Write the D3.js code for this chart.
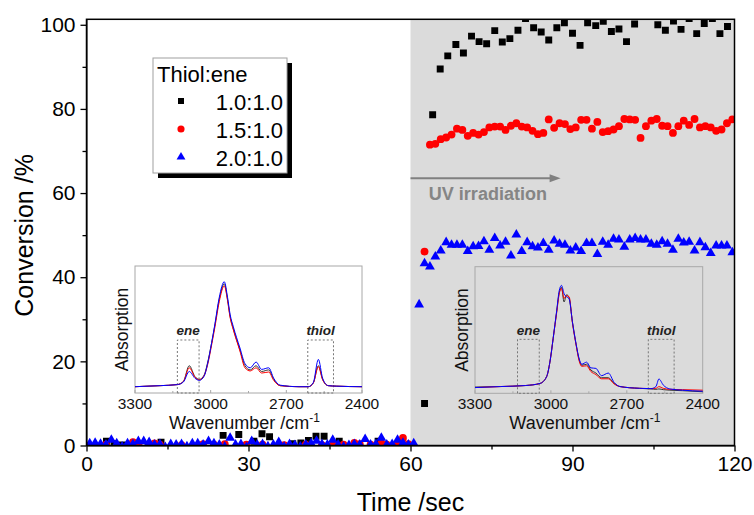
<!DOCTYPE html>
<html>
<head>
<meta charset="utf-8">
<script src="https://cdn.jsdelivr.net/npm/d3@7"></script>
<style>
body { margin: 0; background: #fff; }
svg { display: block; font-family: "Liberation Sans", Arial, sans-serif; }
</style>
</head>
<body>
<svg width="754" height="515"></svg>
<script>
// main chart data: conversion (%) vs time (s)
const xTicks = [0, 30, 60, 90, 120];
const xMinor = [15, 45, 75, 105];
const yTicks = [0, 20, 40, 60, 80, 100];
const yMinor = [10, 30, 50, 70, 90];

const seriesNames = ['1.0:1.0', '1.5:1.0', '2.0:1.0'];
const seriesColors = ['#000000', '#ff0000', '#0000ff'];

// 1.0:1.0 sampled every ~1.44 s (only the visible points)
const blackTime = [3.7, 5.1, 6.6, 13.8, 25.3, 28.2, 31.0, 32.5, 33.9, 38.2, 39.7, 41.1, 42.5, 44.0, 46.8, 54.0,
  62.6, 64.1, 65.5, 66.9, 68.4, 69.8, 71.3, 72.7, 74.1, 75.6, 77.0, 78.4, 79.9, 81.3, 82.8, 84.2, 85.6, 87.1, 88.5, 90.0,
  91.4, 92.8, 94.3, 95.7, 97.2, 98.6, 100.0, 101.5, 102.9, 104.4, 105.8, 107.2, 108.7, 110.1, 111.6, 113.0, 114.4, 115.9, 117.3, 118.7];
const blackConv = [1.0, 0.4, 0.1, 0.8, 2.4, 2.6, 1.0, 2.8, 2.1, 0.4, 0.6, 1.2, 2.2, 2.2, 1.0, 1.0,
  10, 78.6, 89.5, 92.6, 95.3, 93.3, 97.3, 96.0, 95.5, 98.6, 95.9, 96.7, 98.7, 101.5, 99.3, 98.3, 96.4, 99.3, 100.5, 98.0,
  95.1, 100.5, 99.8, 100.8, 98.4, 99.0, 96.0, 100.2, 102.5, 102.5, 100.0, 98.7, 100.9, 98.9, 101.5, 97.9, 100.3, 101.5, 97.9, 99.6];

// 1.5:1.0 and 2.0:1.0 sampled every second
const secTime = [0.6, 1.6, 2.6, 3.6, 4.6, 5.6, 6.6, 7.6, 8.6, 9.6,
  10.6, 11.6, 12.6, 13.6, 14.6, 15.6, 16.6, 17.6, 18.6, 19.6,
  20.6, 21.6, 22.6, 23.6, 24.6, 25.6, 26.6, 27.6, 28.6, 29.6,
  30.6, 31.6, 32.6, 33.6, 34.6, 35.6, 36.6, 37.6, 38.6, 39.6,
  40.6, 41.6, 42.6, 43.6, 44.6, 45.6, 46.6, 47.6, 48.6, 49.6,
  50.6, 51.6, 52.6, 53.6, 54.6, 55.6, 56.6, 57.6, 58.6, 59.6,
  60.6, 61.6, 62.6, 63.6, 64.6, 65.6, 66.6, 67.6, 68.6, 69.6,
  70.6, 71.6, 72.6, 73.6, 74.6, 75.6, 76.6, 77.6, 78.6, 79.6,
  80.6, 81.6, 82.6, 83.6, 84.6, 85.6, 86.6, 87.6, 88.6, 89.6,
  90.6, 91.6, 92.6, 93.6, 94.6, 95.6, 96.6, 97.6, 98.6, 99.6,
  100.6, 101.6, 102.6, 103.6, 104.6, 105.6, 106.6, 107.6, 108.6, 109.6,
  110.6, 111.6, 112.6, 113.6, 114.6, 115.6, 116.6, 117.6, 118.6, 119.6];
const redConv = [null, null, null, 0.2, null, null, null, null, 0.8, 0.3,
  null, null, 0.5, 0.2, null, null, null, 0.1, null, null,
  null, 0.3, null, 0.2, null, 0.3, null, null, null, 0.2,
  null, null, 0.2, null, null, null, 0.1, null, null, null,
  0.2, null, null, 0.1, null, 0.1, null, 0.2, null, 0.6,
  0.3, null, 0.2, null, 0.5, 0.2, null, 0.3, 1.8, 0.3,
  null, null, 46.1, 71.5, 71.7, 72.8, 73.2, 73.9, 75.3, 75.0,
  73.6, 74.3, 73.9, 74.5, 75.6, 75.8, 75.8, 75.0, 76.0, 76.6,
  75.8, 75.6, 74.8, 74.0, 74.3, 77.5, 75.5, 76.6, 76.4, 75.2,
  75.6, 77.4, 77.4, 75.3, 76.9, 74.5, 74.7, 75.1, 75.9, 77.6,
  77.5, 77.4, 73.1, 75.9, 77.2, 77.6, 76.0, 75.9, 74.3, 75.9,
  77.2, 76.2, 77.6, 75.6, 75.9, 75.6, 74.8, 75.1, 76.6, 77.5];
const blueConv = [0.5, 0.6, 0.4, 0.2, 1.3, 0.5, -0.3, 0.5, 0.3, 1.0,
  1.0, 0.8, 0.2, 0.3, -0.4, 0.3, 0.2, 0.3, -0.2, 0.5,
  0.5, 0.2, 1.0, 0.5, 0.2, -0.3, 1.8, 0.2, 0.3, -0.4,
  1.0, 0.2, 0.3, -0.2, 0.2, 0.8, -0.3, 0.3, 0.1, -0.3,
  0.2, 0.5, 1.1, 0.3, 0.2, 1.3, 0.2, -0.3, 0.1, 0.3,
  0.2, 1.5, 0.2, 0.3, 1.8, 0.2, 0.3, 1.3, 0.6, 0.2,
  0.5, 33.5, 43.3, 42.5, 44.9, 46.3, 48.3, 47.7, 47.7, 47.7,
  46.2, 47.3, 47.4, 48.5, 46.5, 49.3, 47.5, 48.4, 45.1, 50.1,
  46.2, 48.3, 47.3, 47.0, 48.1, 46.5, 48.7, 47.9, 47.7, 46.3,
  47.0, 46.2, 48.1, 48.1, 45.5, 48.4, 47.7, 49.1, 48.9, 47.2,
  48.9, 49.3, 48.9, 48.9, 47.9, 47.7, 48.5, 47.9, 46.5, 49.1,
  48.2, 48.4, 46.3, 48.3, 47.1, 45.7, 47.5, 47.5, 47.5, 45.9];

// inset spectra (absorbance, normalised to main peak)
const wnTicks = [3300, 3000, 2700, 2400];
const bandNames = ['ene', 'thiol'];
const bandFrom = [3132, 2615];
const bandTo = [3046, 2513];

const wn1 = [3300, 3200, 3132, 3108, 3085, 3062, 3045, 3026, 3013, 2996, 2983, 2966, 2946, 2933, 2923, 2910,
  2884, 2864, 2843, 2820, 2798, 2770, 2750, 2725, 2650, 2613, 2593, 2573, 2556, 2534, 2500, 2400];
const spec1Black = [0.01, 0.02, 0.03, 0.06, 0.21, 0.105, 0.08, 0.12, 0.23, 0.43, 0.6, 0.84, 0.99, 0.84, 0.68, 0.56,
  0.36, 0.21, 0.17, 0.21, 0.155, 0.17, 0.08, 0.02, 0.01, 0.01, 0.045, 0.21, 0.08, 0.02, 0.015, 0.01];
const spec1Red = [0.01, 0.02, 0.03, 0.06, 0.19, 0.1, 0.075, 0.115, 0.21, 0.41, 0.58, 0.82, 0.97, 0.83, 0.67, 0.55,
  0.35, 0.19, 0.16, 0.19, 0.14, 0.15, 0.07, 0.02, 0.01, 0.01, 0.045, 0.2, 0.075, 0.02, 0.015, 0.01];
const spec1Blue = [0.01, 0.02, 0.03, 0.055, 0.155, 0.09, 0.07, 0.11, 0.22, 0.43, 0.61, 0.86, 1.01, 0.86, 0.7, 0.58,
  0.38, 0.23, 0.19, 0.245, 0.175, 0.19, 0.09, 0.025, 0.01, 0.01, 0.05, 0.27, 0.09, 0.02, 0.015, 0.01];

const wn2 = [3300, 3200, 3100, 3043, 3017, 3004, 2991, 2977, 2967, 2958, 2948, 2938, 2928, 2915, 2900, 2888,
  2878, 2859, 2842, 2822, 2800, 2773, 2750, 2727, 2650, 2605, 2585, 2573, 2556, 2530, 2480, 2400];
const spec2Black = [0.03, 0.035, 0.045, 0.065, 0.13, 0.27, 0.5, 0.76, 0.94, 0.99, 0.85, 0.92, 0.89, 0.66, 0.435, 0.29,
  0.24, 0.25, 0.195, 0.165, 0.12, 0.12, 0.065, 0.035, 0.018, 0.012, 0.008, 0.012, 0.005, 0.0, -0.005, -0.015];
const spec2Red = [0.025, 0.035, 0.045, 0.065, 0.13, 0.27, 0.5, 0.75, 0.93, 0.98, 0.885, 0.91, 0.9, 0.65, 0.43, 0.28,
  0.23, 0.235, 0.18, 0.15, 0.11, 0.11, 0.06, 0.035, 0.018, 0.015, 0.018, 0.034, 0.018, 0.008, 0.005, 0.0];
const spec2Blue = [0.025, 0.035, 0.045, 0.065, 0.13, 0.27, 0.5, 0.77, 0.96, 1.01, 0.93, 0.9, 0.88, 0.66, 0.44, 0.3,
  0.25, 0.27, 0.215, 0.21, 0.14, 0.165, 0.075, 0.035, 0.018, 0.015, 0.035, 0.108, 0.05, 0.012, 0.0, -0.01];

const svg = d3.select('svg');
const x = d3.scaleLinear().domain([0, 120]).range([86.5, 734.5]);
const y = d3.scaleLinear().domain([0, 101.3]).range([445.5, 19.3]);
const font = '"Liberation Sans", Arial, sans-serif';

function drawBackground() {
    // UV region shading
    svg.append('rect')
        .attr('x', x(60)).attr('y', y(101.3))
        .attr('width', x(120) - x(60)).attr('height', y(0) - y(101.3))
        .attr('fill', '#dbdbdb');

    // arrow + label
    svg.append('line')
        .attr('x1', x(60)).attr('x2', x(86.6))
        .attr('y1', y(63.5)).attr('y2', y(63.5))
        .attr('stroke', '#808080').attr('stroke-width', 2);
    let tipX = x(87.8), tipY = y(63.5);
    svg.append('path')
        .attr('d', `M${tipX},${tipY} L${tipX - 11},${tipY - 4} L${tipX - 11},${tipY + 4} Z`)
        .attr('fill', '#808080');
    svg.append('text')
        .attr('x', x(63.4)).attr('y', y(58.3))
        .attr('font-size', 18).attr('font-weight', 'bold')
        .attr('fill', '#858585')
        .text('UV irradiation');
}

function drawInset(box, wn, specs) {
    const ix = d3.scaleLinear().domain([3300, 2400]).range([box.x0, box.x1]);
    const iy = d3.scaleLinear().domain(box.yDomain).range([box.y1, box.y0]);
    const g = svg.append('g');

    g.append('rect')
        .attr('x', box.x0).attr('y', box.y0)
        .attr('width', box.x1 - box.x0).attr('height', box.y1 - box.y0)
        .attr('fill', 'none').attr('stroke', '#a8a8a8').attr('stroke-width', 1);

    // small inner ticks
    g.selectAll('.itick').data([3300, 3150, 3000, 2850, 2700, 2550, 2400]).join('line')
        .attr('x1', d => ix(d)).attr('x2', d => ix(d))
        .attr('y1', box.y1).attr('y2', d => box.y1 - (wnTicks.includes(d) ? 3 : 2))
        .attr('stroke', '#a8a8a8');

    // dotted band boxes
    bandNames.forEach((name, i) => {
        let top = iy(box.bandTop);
        g.append('path')
            .attr('d', `M${ix(bandFrom[i])},${box.y1} V${top} H${ix(bandTo[i])} V${box.y1} H${ix(bandFrom[i])}`)
            .attr('fill', 'none').attr('stroke', '#777').attr('stroke-width', 1)
            .attr('stroke-dasharray', '2,2');
        g.append('text')
            .attr('x', (ix(bandFrom[i]) + ix(bandTo[i])) / 2).attr('y', top - 4.5)
            .attr('text-anchor', 'middle')
            .attr('font-size', 13.5).attr('font-weight', 'bold').attr('font-style', 'italic')
            .attr('fill', '#222')
            .text(name);
    });

    const line = d3.line()
        .x((d, i) => ix(wn[i]))
        .y(d => iy(d))
        .curve(d3.curveMonotoneX);
    const specColors = ['#333333', '#ff0000', '#0000ff'];
    specs.forEach((s, k) => {
        g.append('path')
            .attr('d', line(s))
            .attr('fill', 'none')
            .attr('stroke', specColors[k])
            .attr('stroke-width', 1);
    });

    g.selectAll('.ilabel').data(wnTicks).join('text')
        .attr('x', d => ix(d)).attr('y', box.y1 + 15.5)
        .attr('text-anchor', 'middle').attr('font-size', 15.5)
        .attr('fill', '#111')
        .text(d => d);

    let wl = g.append('text')
        .attr('x', (box.x0 + box.x1) / 2 - 4).attr('y', 429)
        .attr('text-anchor', 'middle').attr('font-size', 18)
        .attr('fill', '#111');
    wl.append('tspan').text('Wavenumber /cm');
    wl.append('tspan').attr('dy', -7).attr('font-size', 12).text('-1');

    g.append('text')
        .attr('transform', `translate(${box.x0 - 7},${(box.y0 + box.y1) / 2}) rotate(-90)`)
        .attr('text-anchor', 'middle').attr('font-size', 17.5)
        .attr('fill', '#111')
        .text('Absorption');
}

function drawAxes() {
    let xAxis = svg.append('g')
        .attr('transform', `translate(0,${y(0)})`)
        .call(d3.axisBottom(x).tickValues(xTicks).tickSize(6).tickSizeOuter(0).tickPadding(5));
    svg.append('g')
        .attr('transform', `translate(0,${y(0)})`)
        .call(d3.axisBottom(x).tickValues(xMinor).tickSize(4).tickSizeOuter(0).tickFormat(''))
        .select('.domain').remove();

    let yAxis = svg.append('g')
        .attr('transform', `translate(${x(0)},0)`)
        .call(d3.axisLeft(y).tickValues(yTicks).tickSize(6).tickSizeOuter(0).tickPadding(5));
    svg.append('g')
        .attr('transform', `translate(${x(0)},0)`)
        .call(d3.axisLeft(y).tickValues(yMinor).tickSize(4).tickSizeOuter(0).tickFormat(''))
        .select('.domain').remove();

    svg.selectAll('.tick line').attr('stroke-width', 1.3);
    [xAxis, yAxis].forEach(a => {
        a.attr('font-family', font).attr('font-size', 21);
        a.selectAll('text').attr('fill', '#000');
    });

    // frame
    svg.append('rect')
        .attr('x', x(0)).attr('y', y(101.3))
        .attr('width', x(120) - x(0)).attr('height', y(0) - y(101.3))
        .attr('fill', 'none').attr('stroke', '#000').attr('stroke-width', 1.5);

    svg.append('text')
        .attr('x', x(60)).attr('y', 511)
        .attr('text-anchor', 'middle').attr('font-size', 25)
        .text('Time /sec');
    svg.append('text')
        .attr('transform', `translate(33,${(y(0) + y(101.3)) / 2 + 3}) rotate(-90)`)
        .attr('text-anchor', 'middle').attr('font-size', 25)
        .text('Conversion /%');
}

function drawPoints() {
    svg.append('clipPath').attr('id', 'plotclip')
        .append('rect')
        .attr('x', x(0)).attr('y', y(101.3))
        .attr('width', x(120) - x(0)).attr('height', y(0) - y(101.3));

    const g = svg.append('g').attr('clip-path', 'url(#plotclip)');

    const blackPts = blackTime.map((t, i) => [t, blackConv[i]]);
    const redPts = secTime.map((t, i) => [t, redConv[i]]).filter(d => d[1] !== null);
    const bluePts = secTime.map((t, i) => [t, blueConv[i]]).filter(d => d[1] !== null);

    const shapes = [d3.symbol(d3.symbolSquare, 48), d3.symbol(d3.symbolCircle, 48), d3.symbol(d3.symbolTriangle, 42)];

    [blackPts, redPts, bluePts].forEach((pts, k) => {
        g.selectAll('.s' + k).data(pts).join('path')
            .attr('transform', d => `translate(${x(d[0])},${y(d[1])})`)
            .attr('d', shapes[k]())
            .attr('fill', seriesColors[k]);
    });
}

function drawLegend() {
    const lg = svg.append('g');
    lg.append('rect').attr('x', 158).attr('y', 63).attr('width', 134).attr('height', 115).attr('fill', '#000');
    lg.append('rect').attr('x', 153).attr('y', 58).attr('width', 134).attr('height', 115)
        .attr('fill', '#fff').attr('stroke', '#a0a0a0').attr('stroke-width', 1);
    lg.append('text').attr('x', 157).attr('y', 81.5).attr('font-size', 22).text('Thiol:ene');

    const shapes = [d3.symbol(d3.symbolSquare, 36), d3.symbol(d3.symbolCircle, 40), d3.symbol(d3.symbolTriangle, 34)];
    seriesNames.forEach((name, i) => {
        let cy = 101 + i * 28;
        lg.append('path')
            .attr('transform', `translate(181,${cy})`)
            .attr('d', shapes[i]())
            .attr('fill', seriesColors[i]);
        lg.append('text')
            .attr('x', 283).attr('y', cy + 8.5)
            .attr('text-anchor', 'end').attr('font-size', 22)
            .text(name);
    });
}

drawBackground();
drawInset({x0: 135, x1: 362, y0: 266, y1: 393, yDomain: [-0.05, 1.16], bandTop: 0.455},
    wn1, [spec1Black, spec1Red, spec1Blue]);
drawInset({x0: 475, x1: 702.7, y0: 266.7, y1: 393.3, yDomain: [-0.03, 1.19], bandTop: 0.49},
    wn2, [spec2Black, spec2Red, spec2Blue]);
drawPoints();
drawAxes();
drawLegend();
</script>
</body>
</html>
